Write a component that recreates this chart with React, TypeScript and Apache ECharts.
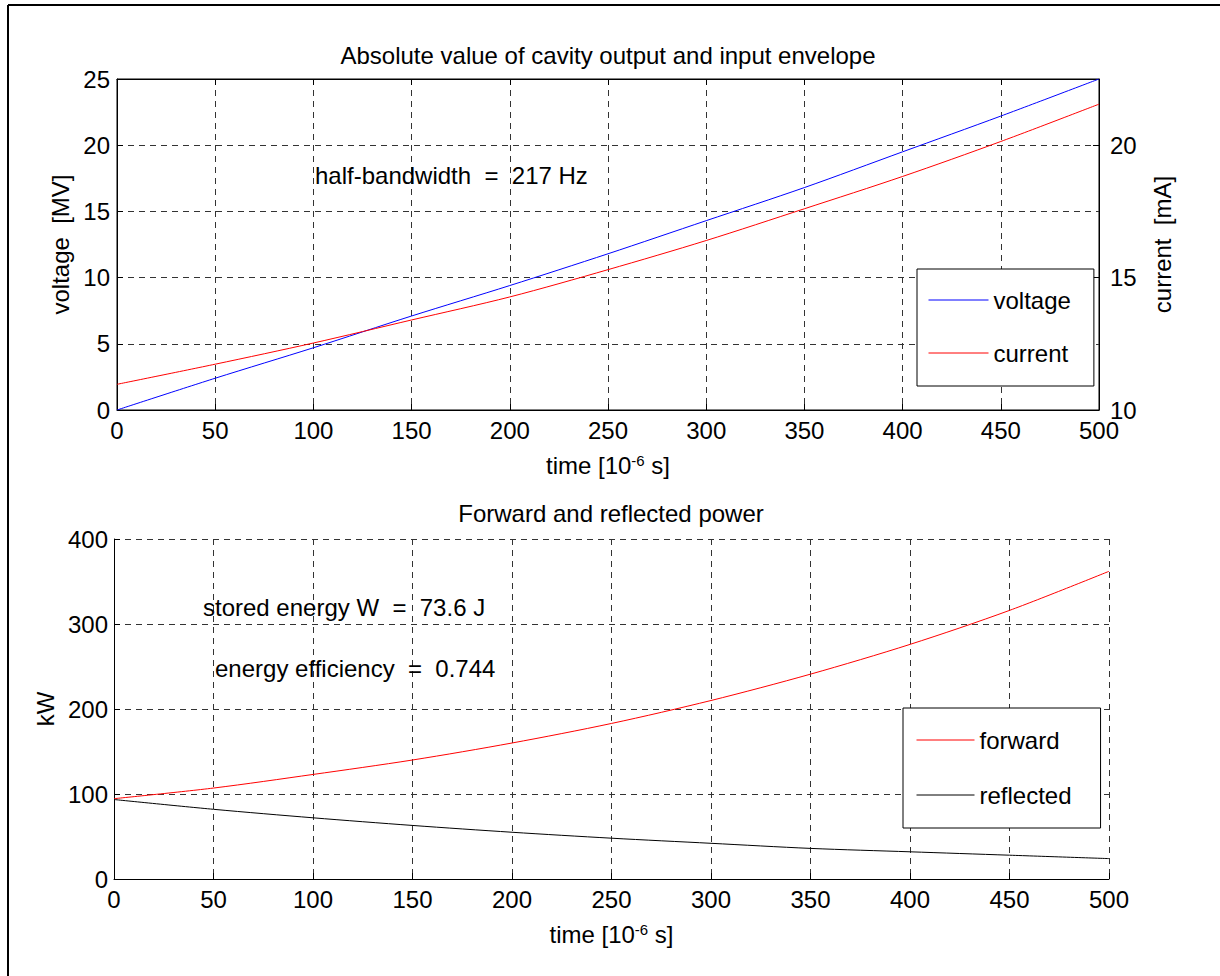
import React, { useEffect, useRef } from "react";
import * as echarts from "echarts";

// time axis samples [10^-6 s]
const timeUs = [0, 50, 100, 150, 200, 250, 300, 350, 400, 450, 500];
// cavity voltage [MV]
const voltageMV = [0, 2.4, 4.7, 7.1, 9.4, 11.8, 14.3, 16.8, 19.5, 22.2, 25.0];
// beam/drive current [mA]
const currentMA = [10.97, 11.73, 12.53, 13.4, 14.27, 15.3, 16.4, 17.6, 18.82, 20.14, 21.55];
// forward power [kW]
const forwardKW = [94.5, 107, 123, 140, 160, 183, 210, 241, 276, 316, 362];
// reflected power [kW]
const reflectedKW = [93.5, 82, 72, 63, 55, 48, 42, 36, 32, 28, 24];

const topTitle = "Absolute value of cavity output and input envelope";
const bottomTitle = "Forward and reflected power";
const noteBandwidth = "half-bandwidth  =  217 Hz";
const noteEnergy = "stored energy W  =  73.6 J";
const noteEfficiency = "energy efficiency  =  0.744";

const FONT = "'Liberation Sans', Arial, Helvetica, sans-serif";

const zip = (xs: number[], ys: number[]) => xs.map((x, i) => [x, ys[i]]);

export default function App() {
  const ref = useRef<HTMLDivElement>(null);

  useEffect(() => {
    document.body.style.margin = "0";
    if (!ref.current) return;
    const chart = echarts.init(ref.current, undefined, { renderer: "svg" });

    const label = { color: "#000", fontSize: 24, fontFamily: FONT };
    const dashed = { show: true, lineStyle: { color: "#333", width: 1, type: [6, 5] } };
    const axisLine = { show: true, onZero: false, lineStyle: { color: "#000", width: 1 } };
    const tick = { show: true, inside: true, length: 6, lineStyle: { color: "#000", width: 1 } };
    const nameStyle = { color: "#000", fontSize: 24, fontFamily: FONT };
    const timeName = "{a|time [10}{b|-6}{a| s]}";
    const timeNameStyle = {
      rich: {
        a: { fontSize: 24, color: "#000", fontFamily: FONT, lineHeight: 28 },
        b: { fontSize: 15, color: "#000", fontFamily: FONT, verticalAlign: "top", padding: [2, 0, 0, 0] },
      },
    };
    const legendBase = {
      orient: "vertical",
      itemHeight: 24,
      backgroundColor: "#fff",
      borderColor: "#000",
      borderWidth: 1,
      borderRadius: 0,
      itemStyle: { opacity: 0 },
      lineStyle: { width: 1 },
      textStyle: { fontSize: 24, color: "#000", fontFamily: FONT },
      selectedMode: false,
    };

    const option: any = {
      animation: false,
      backgroundColor: "#fff",
      textStyle: { fontFamily: FONT },
      title: [
        {
          text: topTitle,
          left: 608,
          top: 41,
          textAlign: "center",
          padding: 0,
          textStyle: { fontSize: 24, fontWeight: "normal", color: "#000", fontFamily: FONT, lineHeight: 28 },
        },
        {
          text: bottomTitle,
          left: 611,
          top: 499,
          textAlign: "center",
          padding: 0,
          textStyle: { fontSize: 24, fontWeight: "normal", color: "#000", fontFamily: FONT, lineHeight: 28 },
        },
      ],
      grid: [
        { left: 117, top: 79, width: 982, height: 331, show: true, borderColor: "#000", borderWidth: 1, backgroundColor: "transparent" },
        { left: 114, top: 539, width: 995, height: 340 },
      ],
      xAxis: [
        {
          type: "value", gridIndex: 0, min: 0, max: 500, interval: 50,
          axisLine, axisTick: tick, axisLabel: { ...label, margin: 8 }, splitLine: dashed,
          name: timeName, nameLocation: "middle", nameGap: 41, nameTextStyle: timeNameStyle,
        },
        {
          type: "value", gridIndex: 1, min: 0, max: 500, interval: 50,
          axisLine, axisTick: tick, axisLabel: { ...label, margin: 8 }, splitLine: dashed,
          name: timeName, nameLocation: "middle", nameGap: 41, nameTextStyle: timeNameStyle,
        },
        {
          type: "value", gridIndex: 0, position: "top", min: 0, max: 500, interval: 50,
          axisLine, axisTick: tick, axisLabel: { show: false }, splitLine: { show: false },
        },
      ],
      yAxis: [
        {
          type: "value", gridIndex: 0, position: "left", min: 0, max: 25, interval: 5,
          axisLine, axisTick: tick, axisLabel: { ...label, margin: 7 }, splitLine: dashed,
          name: "voltage  [MV]", nameLocation: "middle", nameRotate: 90, nameGap: 42, nameTextStyle: nameStyle,
        },
        {
          type: "value", gridIndex: 0, position: "right", min: 10, max: 22.5, interval: 5,
          axisLine, axisTick: tick, axisLabel: { ...label, margin: 11, showMaxLabel: false }, splitLine: { show: false },
          name: "current  [mA]", nameLocation: "middle", nameRotate: 90, nameGap: 51, nameTextStyle: nameStyle,
        },
        {
          type: "value", gridIndex: 1, position: "left", min: 0, max: 400, interval: 100,
          axisLine, axisTick: tick, axisLabel: { ...label, margin: 6 }, splitLine: dashed,
          name: "kW", nameLocation: "middle", nameRotate: 90, nameGap: 57, nameTextStyle: nameStyle,
        },
      ],
      legend: [
        {
          ...legendBase,
          data: ["voltage", "current"], left: 917, top: 269,
          padding: [19, 23, 21, 11], itemWidth: 60, itemGap: 29,
        },
        {
          ...legendBase,
          data: ["forward", "reflected"], left: 903, top: 708,
          padding: [20, 29, 21, 13], itemWidth: 58, itemGap: 31,
        },
      ],
      series: [
        {
          name: "voltage", type: "line", xAxisIndex: 0, yAxisIndex: 0, data: zip(timeUs, voltageMV),
          symbol: "none", smooth: 0.3, lineStyle: { color: "#0000ff", width: 1 }, itemStyle: { color: "#0000ff" }, z: 3,
        },
        {
          name: "current", type: "line", xAxisIndex: 0, yAxisIndex: 1, data: zip(timeUs, currentMA),
          symbol: "none", smooth: 0.3, lineStyle: { color: "#ff0000", width: 1 }, itemStyle: { color: "#ff0000" }, z: 3,
        },
        {
          name: "forward", type: "line", xAxisIndex: 1, yAxisIndex: 2, data: zip(timeUs, forwardKW),
          symbol: "none", smooth: 0.3, lineStyle: { color: "#ff0000", width: 1 }, itemStyle: { color: "#ff0000" }, z: 3,
        },
        {
          name: "reflected", type: "line", xAxisIndex: 1, yAxisIndex: 2, data: zip(timeUs, reflectedKW),
          symbol: "none", smooth: 0.3, lineStyle: { color: "#000", width: 1 }, itemStyle: { color: "#000" }, z: 3,
        },
      ],
      graphic: [
        { type: "line", shape: { x1: 8, y1: 5, x2: 1220, y2: 5 }, style: { stroke: "#000", lineWidth: 2 }, silent: true },
        { type: "line", shape: { x1: 8, y1: 5, x2: 8, y2: 976 }, style: { stroke: "#000", lineWidth: 2 }, silent: true },
        {
          type: "text", x: 315, y: 175,
          style: { text: noteBandwidth, fill: "#000", fontSize: 24, fontFamily: FONT, verticalAlign: "middle", align: "left" },
          z: 10,
        },
        {
          type: "text", x: 203, y: 607,
          style: { text: noteEnergy, fill: "#000", fontSize: 24, fontFamily: FONT, verticalAlign: "middle", align: "left" },
          z: 10,
        },
        {
          type: "text", x: 215, y: 668,
          style: { text: noteEfficiency, fill: "#000", fontSize: 24, fontFamily: FONT, verticalAlign: "middle", align: "left" },
          z: 10,
        },
      ],
    };

    chart.setOption(option);
    return () => chart.dispose();
  }, []);

  return <div ref={ref} style={{ width: 1220, height: 976 }} />;
}
